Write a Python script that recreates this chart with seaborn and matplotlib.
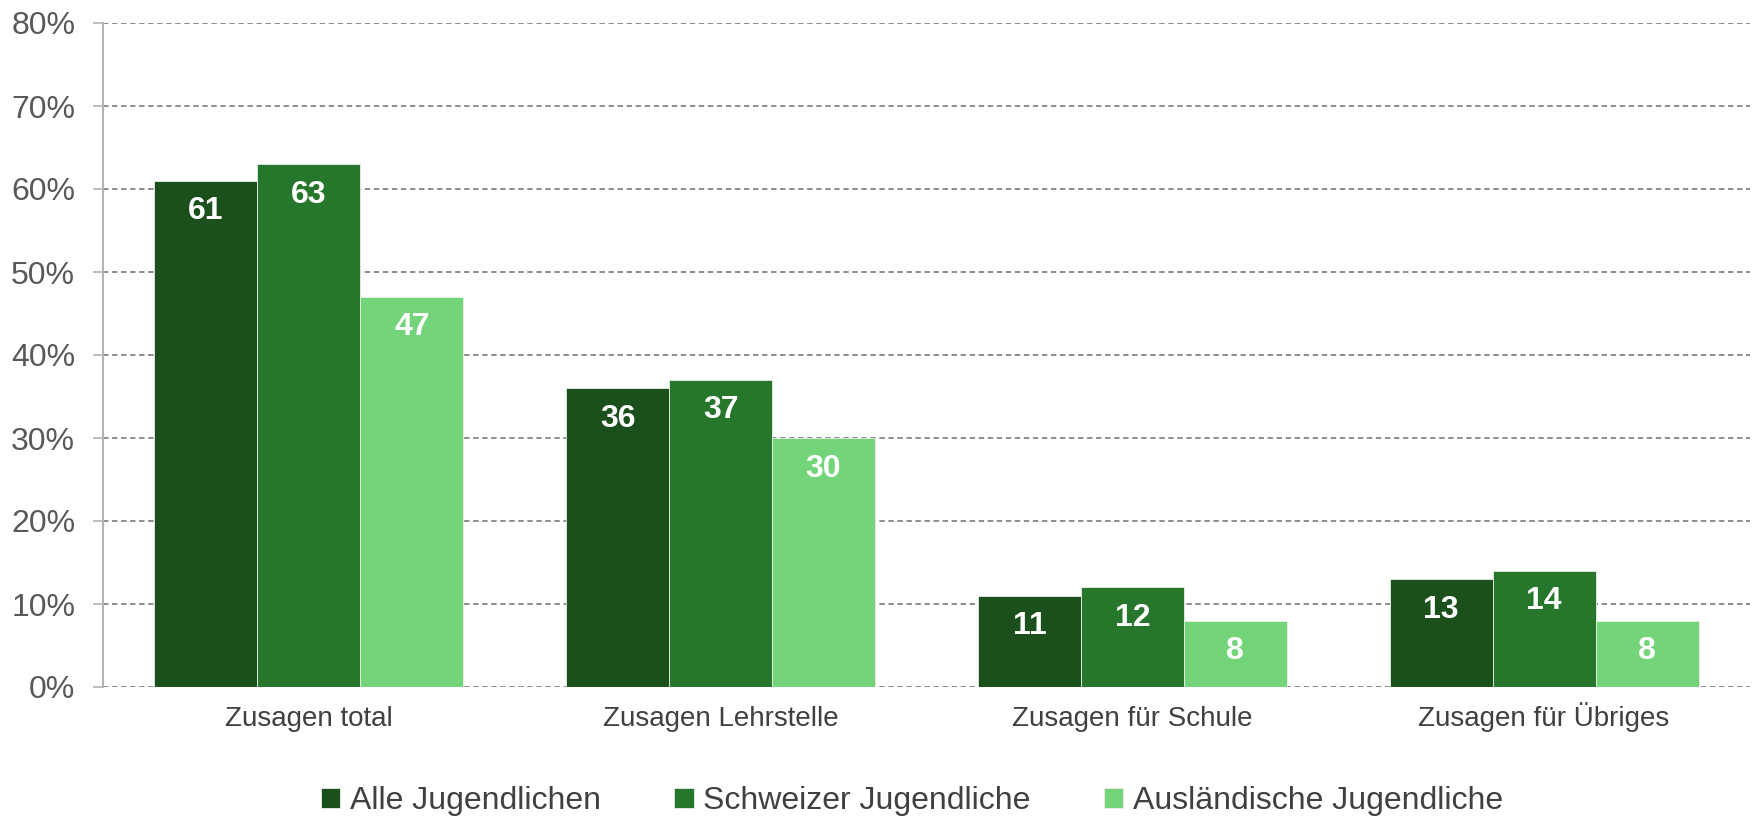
import matplotlib
matplotlib.use("Agg")
import matplotlib.pyplot as plt
from matplotlib.ticker import FuncFormatter, MultipleLocator
import pandas as pd
import seaborn as sns

categories = ["Zusagen total", "Zusagen Lehrstelle", "Zusagen für Schule", "Zusagen für Übriges"]
groups = ["Alle Jugendlichen", "Schweizer Jugendliche", "Ausländische Jugendliche"]
alle = [61, 36, 11, 13]
schweizer = [63, 37, 12, 14]
auslaendisch = [47, 30, 8, 8]
colors = ["#1b4f1c", "#26762b", "#74d47a"]

rows = []
for g, vals in zip(groups, [alle, schweizer, auslaendisch]):
    for c, v in zip(categories, vals):
        rows.append({"Kategorie": c, "Gruppe": g, "Wert": v})
df = pd.DataFrame(rows)

sns.set_theme(style="white")
plt.rcParams["font.family"] = ["Liberation Sans", "DejaVu Sans"]

fig = plt.figure(figsize=(17.56, 8.16), dpi=100)
ax = fig.add_axes([103 / 1756, 1 - 687 / 816, (1750 - 103) / 1756, (687 - 23) / 816])

sns.barplot(data=df, x="Kategorie", y="Wert", hue="Gruppe", order=categories,
            hue_order=groups, palette=colors, width=0.75, gap=0,
            saturation=1, edgecolor="#e8efe8", linewidth=0.6, ax=ax, legend=True)

ax.set_ylim(0, 80)
ax.set_xlim(-0.5, len(categories) - 0.5)
ax.yaxis.set_major_locator(MultipleLocator(10))
ax.yaxis.set_major_formatter(FuncFormatter(lambda v, p: f"{v:.0f}%"))
ax.set_xlabel("")
ax.set_ylabel("")
ax.set_axisbelow(True)
ax.grid(axis="y", color="#858585", linestyle=(0, (3, 2)), linewidth=1.3)
ax.grid(axis="x", visible=False)

for side in ["top", "right", "bottom"]:
    ax.spines[side].set_visible(False)
ax.spines["left"].set_color("#b3b3b3")
ax.spines["left"].set_linewidth(1.5)

ax.tick_params(axis="y", which="major", left=True, length=7, width=1.2,
               color="#b3b3b3", pad=13, labelsize=23, labelcolor="#595959")
ax.tick_params(axis="x", bottom=False, pad=22, labelsize=20, labelcolor="#404040")
for lbl in ax.get_xticklabels():
    lbl.set_verticalalignment("baseline")

for container in ax.containers:
    for bar in container:
        h = bar.get_height()
        ax.annotate(f"{h:.0f}", (bar.get_x() + bar.get_width() / 2, h),
                    xytext=(0, -22), textcoords="offset points",
                    ha="center", va="center", color="white",
                    fontsize=23, fontweight="bold")

handles, labels = ax.get_legend_handles_labels()
ax.get_legend().remove()
fig.legend(handles, labels, loc="center", bbox_to_anchor=(912 / 1756, 1 - 801 / 816),
           ncol=3, frameon=False, fontsize=23, handlelength=0.6, handleheight=0.6,
           handletextpad=0.3, columnspacing=2.3, labelcolor="#404040")

fig.savefig("out.png", dpi=100)
